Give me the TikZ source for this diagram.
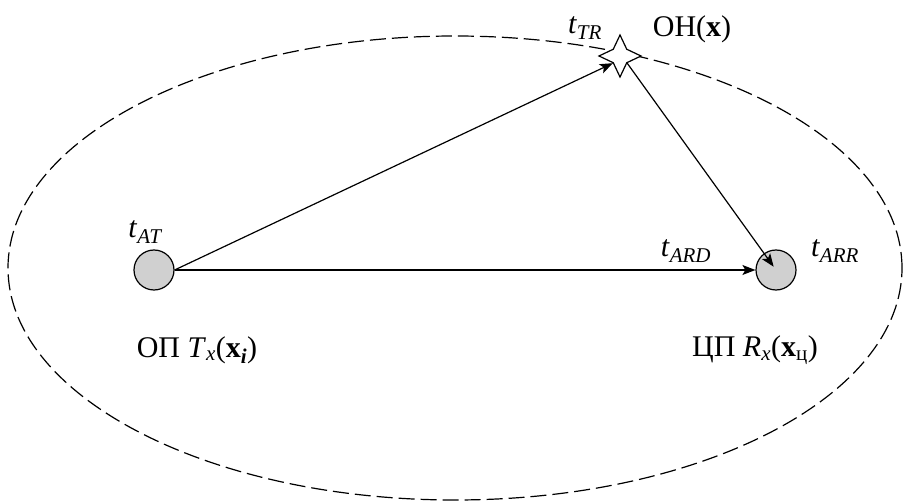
\documentclass[tikz,border=0pt]{standalone}
\usepackage{fontspec}
\usepackage{amsmath}
\setmainfont{Liberation Serif}
\usetikzlibrary{shapes.geometric,arrows.meta}
\newcommand{\tlab}[1]{\textit{t}$_{\textit{#1}}$}
\definecolor{dotfill}{HTML}{D0D0D0}
\begin{document}
\begin{tikzpicture}[x=1pt,y=-1pt,
  lab/.style={font=\fontsize{30}{34}\selectfont, inner sep=0pt},
  dot/.style={circle, draw, line width=1.2pt, fill=dotfill, minimum size=40pt, inner sep=0pt},
  target/.style={star, star points=4, star point ratio=2.2, minimum size=42pt, inner sep=0pt, draw, fill=white, line width=1.2pt},
  arr/.style={line width=1.2pt, -{Stealth[length=13pt,width=10pt,inset=3pt]}},
  bound/.style={line width=1.2pt, dash pattern=on 16pt off 6pt}]
\useasboundingbox (0,0) rectangle (904,502);
\draw[bound] (455,268) ellipse [x radius=447pt, y radius=232pt];
\node[dot] (L) at (154,270) {};
\node[dot] (R) at (776,270) {};
\node[target] (S) at (620,56) {};
\draw[arr] (L.east) -- (S.225);
\draw[arr] (L.east) -- (R.west);
\draw[arr, shorten >=4pt] (S.315) -- (R.center);
\node[lab] (tat) at (145,232) {\tlab{AT}};
\node[lab] (ttr) at (585,28) {\tlab{TR}};
\node[lab] (on) at (692,29) {ОН(\textbf{x})};
\node[lab] (tard) at (686,251) {\tlab{ARD}};
\node[lab] (tarr) at (835,251) {\tlab{ARR}};
\node[lab] (op) at (197,350) {ОП \textit{T}$_{\textit{x}}$(\textbf{x}$_{\textbf{\textit{i}}}$)};
\node[lab] (cp) at (755,350) {ЦП \textit{R}$_{\textit{x}}$(\textbf{x}$_{\text{ц}}$)};
\end{tikzpicture}
\end{document}
